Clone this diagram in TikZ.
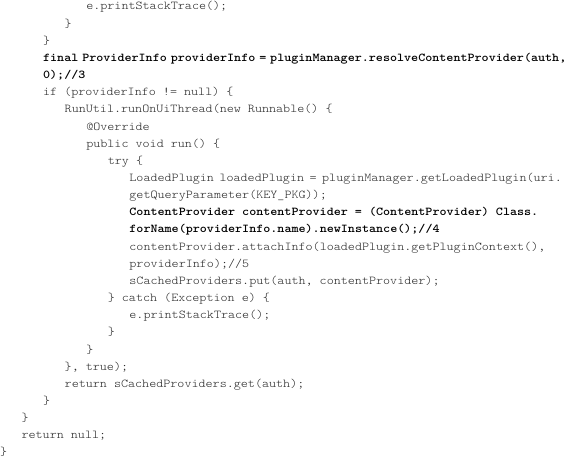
\documentclass[tikz,border=0pt]{standalone}
\usepackage{fontspec}
\setmonofont{Latin Modern Mono Light}[FakeStretch=1.119]
\newcommand\nsp[1]{\hspace*{#1}}
\tikzset{
  codeline/.style={font=\ttfamily\fontsize{12}{14}\selectfont, text=black!85, anchor=base west, inner sep=0pt, outer sep=0pt},
  boldline/.style={codeline, font=\ttfamily\bfseries\fontsize{12}{14}\selectfont, text=black},
}
\begin{document}
\begin{tikzpicture}[x=1pt,y=1pt]
\useasboundingbox (0,0) rectangle (566,459);
\def\ind{21.57}
\def\dy{17.15}
\node[codeline] (l1)  at ({4*\ind}, {449-0*\dy})  {e.printStackTrace();};
\node[codeline] (l2)  at ({3*\ind}, {449-1*\dy})  {\}};
\node[codeline] (l3)  at ({2*\ind}, {449-2*\dy})  {\}};
\node[boldline] (l4)  at ({2*\ind}, {449-3*\dy})  {final\nsp{3.9pt}ProviderInfo\nsp{3.9pt}providerInfo\nsp{3.9pt}=\nsp{3.9pt}pluginManager.resolveContentProvider(auth,};
\node[boldline] (l5)  at ({2*\ind}, {449-4*\dy})  {0);//3};
\node[codeline] (l6)  at ({2*\ind}, {449-5*\dy})  {if (providerInfo != null) \{};
\node[codeline] (l7)  at ({3*\ind}, {449-6*\dy})  {RunUtil.runOnUiThread(new Runnable() \{};
\node[codeline] (l8)  at ({4*\ind}, {449-7*\dy})  {@Override};
\node[codeline] (l9)  at ({4*\ind}, {449-8*\dy})  {public void run() \{};
\node[codeline] (l10) at ({5*\ind}, {449-9*\dy})  {try \{};
\node[codeline] (l11) at ({6*\ind}, {449-10*\dy}) {LoadedPlugin\nsp{5.5pt}loadedPlugin\nsp{5.5pt}=\nsp{5.5pt}pluginManager.getLoadedPlugin(uri.};
\node[codeline] (l12) at ({6*\ind}, {449-11*\dy}) {getQueryParameter(KEY\_PKG));};
\node[boldline] (l13) at ({6*\ind}, {449-12*\dy}) {ContentProvider contentProvider = (ContentProvider) Class.};
\node[boldline] (l14) at ({6*\ind}, {449-13*\dy}) {forName(providerInfo.name).newInstance();//4};
\node[codeline] (l15) at ({6*\ind}, {449-14*\dy}) {contentProvider.attachInfo(loadedPlugin.getPluginContext(),};
\node[codeline] (l16) at ({6*\ind}, {449-15*\dy}) {providerInfo);//5};
\node[codeline] (l17) at ({6*\ind}, {449-16*\dy}) {sCachedProviders.put(auth, contentProvider);};
\node[codeline] (l18) at ({5*\ind}, {449-17*\dy}) {\} catch (Exception e) \{};
\node[codeline] (l19) at ({6*\ind}, {449-18*\dy}) {e.printStackTrace();};
\node[codeline] (l20) at ({5*\ind}, {449-19*\dy}) {\}};
\node[codeline] (l21) at ({4*\ind}, {449-20*\dy}) {\}};
\node[codeline] (l22) at ({3*\ind}, {449-21*\dy}) {\}, true);};
\node[codeline] (l23) at ({3*\ind}, {449-22*\dy}) {return sCachedProviders.get(auth);};
\node[codeline] (l24) at ({2*\ind}, {449-23*\dy}) {\}};
\node[codeline] (l25) at ({1*\ind}, {449-24*\dy}) {\}};
\node[codeline] (l26) at ({1*\ind}, {449-25*\dy}) {return null;};
\node[codeline] (l27) at ({0}, {449-26*\dy}) {\}};
\end{tikzpicture}
\end{document}
